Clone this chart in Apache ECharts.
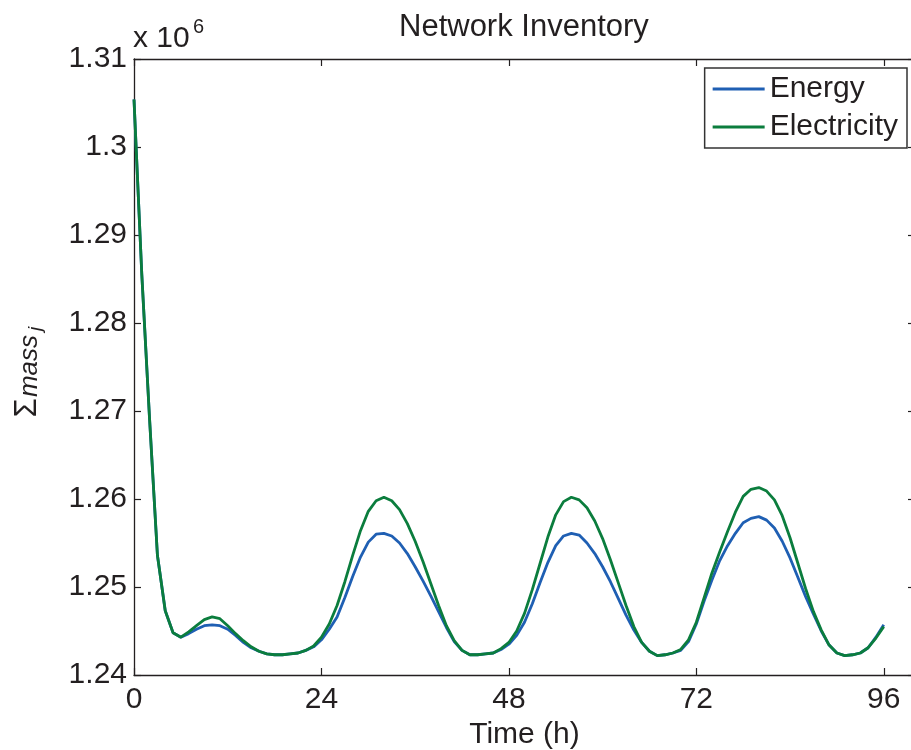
<!DOCTYPE html>
<html>
<head>
<meta charset="utf-8">
<title>Network Inventory</title>
<script src="https://cdn.jsdelivr.net/npm/echarts@6/dist/echarts.min.js"></script>
<style>
  html, body { margin: 0; padding: 0; background: #fff; }
  #chart { width: 911px; height: 750px; }
</style>
</head>
<body>
<div id="chart"></div>
<script>
// time axis (h)
var hours = [
  0, 1, 2, 3, 4, 5, 6, 7, 8, 9, 10, 11, 12, 13, 14, 15, 16, 17, 18, 19,
  20, 21, 22, 23, 24, 25, 26, 27, 28, 29, 30, 31, 32, 33, 34, 35, 36, 37, 38, 39,
  40, 41, 42, 43, 44, 45, 46, 47, 48, 49, 50, 51, 52, 53, 54, 55, 56, 57, 58, 59,
  60, 61, 62, 63, 64, 65, 66, 67, 68, 69, 70, 71, 72, 73, 74, 75, 76, 77, 78, 79,
  80, 81, 82, 83, 84, 85, 86, 87, 88, 89, 90, 91, 92, 93, 94, 95, 96
];

// sum of mass, x 10^6
var energy = [
  1.3054, 1.2855, 1.2690, 1.2536, 1.2473, 1.2448, 1.2443, 1.2447, 1.2452, 1.2456,
  1.2457, 1.2456, 1.2452, 1.2445, 1.2437, 1.2431, 1.2427, 1.2424, 1.2423, 1.2423,
  1.2424, 1.2425, 1.2428, 1.2432, 1.2440, 1.2452, 1.2466, 1.2488, 1.2512, 1.2534,
  1.2551, 1.2560, 1.2561, 1.2558, 1.2550, 1.2538, 1.2523, 1.2507, 1.2490, 1.2472,
  1.2454, 1.2438, 1.2428, 1.2423, 1.2423, 1.2424, 1.2425, 1.2429, 1.2435, 1.2445,
  1.2460, 1.2481, 1.2505, 1.2528, 1.2547, 1.2558, 1.2561, 1.2559, 1.2550, 1.2538,
  1.2523, 1.2506, 1.2487, 1.2468, 1.2451, 1.2437, 1.2427, 1.2422, 1.2423, 1.2425,
  1.2428, 1.2438, 1.2458, 1.2484, 1.2508, 1.2530, 1.2547, 1.2561, 1.2573, 1.2578,
  1.2580, 1.2576, 1.2567, 1.2552, 1.2533, 1.2511, 1.2489, 1.2469, 1.2450, 1.2434,
  1.2425, 1.2422, 1.2423, 1.2425, 1.2431, 1.2443, 1.2457
];

var electricity = [
  1.3054, 1.2855, 1.2690, 1.2536, 1.2473, 1.2448, 1.2443, 1.2449, 1.2456, 1.2463,
  1.2466, 1.2464, 1.2456, 1.2447, 1.2439, 1.2432, 1.2427, 1.2424, 1.2423, 1.2423,
  1.2424, 1.2425, 1.2428, 1.2433, 1.2443, 1.2458, 1.2479, 1.2506, 1.2536, 1.2564,
  1.2586, 1.2598, 1.2602, 1.2598, 1.2588, 1.2572, 1.2552, 1.2529, 1.2504, 1.2479,
  1.2456, 1.2439, 1.2428, 1.2423, 1.2423, 1.2424, 1.2425, 1.2430, 1.2437, 1.2450,
  1.2470, 1.2497, 1.2527, 1.2557, 1.2582, 1.2597, 1.2602, 1.2599, 1.2590, 1.2575,
  1.2555, 1.2531, 1.2505, 1.2479, 1.2455, 1.2437, 1.2427, 1.2422, 1.2423, 1.2425,
  1.2429, 1.2440, 1.2460, 1.2488, 1.2516, 1.2540, 1.2563, 1.2585, 1.2603, 1.2611,
  1.2613, 1.2609, 1.2599, 1.2581, 1.2556, 1.2527, 1.2498, 1.2472, 1.2451, 1.2434,
  1.2425, 1.2422, 1.2423, 1.2425, 1.2431, 1.2442, 1.2455
];

var xTicks = [0, 24, 48, 72, 96];
var seriesNames = ["Energy", "Electricity"];

var FONT = '"Liberation Sans", Arial, Helvetica, sans-serif';
var INK = "#231f20";
var axisLine = { show: true, onZero: false, lineStyle: { color: INK, width: 1.3 } };
var tick = { show: true, inside: true, length: 7, lineStyle: { color: INK, width: 1.2 } };

var chart = echarts.init(document.getElementById("chart"), null, { renderer: "canvas" });

function pairs(vals) {
  return hours.map(function (h, i) { return [h, vals[i]]; });
}

var option = {
  animation: false,
  backgroundColor: "#fff",
  textStyle: { fontFamily: FONT },
  title: {
    text: "Network Inventory",
    left: 394,
    top: 7,
    textStyle: { fontSize: 31, fontWeight: "normal", color: INK, fontFamily: FONT }
  },
  legend: {
    orient: "vertical",
    right: 4,
    top: 68,
    padding: [6, 9, 6, 8],
    itemGap: 8,
    itemWidth: 52,
    itemHeight: 3,
    icon: "rect",
    borderColor: "#333",
    borderWidth: 1.5,
    backgroundColor: "#fff",
    data: seriesNames,
    textStyle: { fontSize: 30, lineHeight: 30, color: INK, fontFamily: FONT }
  },
  // the right edge of the box sits just past the canvas, as in the source image
  grid: { left: 134, top: 59, width: 781, height: 616, outerBoundsMode: "none", containLabel: false },
  xAxis: [
    {
      type: "value", min: 0, max: 100, interval: 24, position: "bottom",
      axisLine: axisLine,
      axisTick: Object.assign({ customValues: xTicks }, tick),
      axisLabel: { customValues: xTicks, fontSize: 30, color: INK, margin: 10, fontFamily: FONT },
      splitLine: { show: false },
      name: "Time (h)", nameLocation: "middle", nameGap: 34,
      nameTextStyle: { fontSize: 30, color: INK, fontFamily: FONT }
    },
    {
      type: "value", min: 0, max: 100, interval: 24, position: "top",
      axisLine: axisLine,
      axisTick: Object.assign({ customValues: xTicks }, tick),
      axisLabel: { show: false },
      splitLine: { show: false }
    }
  ],
  yAxis: [
    {
      type: "value", min: 1.24, max: 1.31, interval: 0.01, position: "left",
      axisLine: axisLine,
      axisTick: tick,
      axisLabel: {
        fontSize: 30, color: INK, margin: 7, fontFamily: FONT,
        formatter: function (v) { return String(+v.toFixed(2)); }
      },
      splitLine: { show: false }
    },
    {
      type: "value", min: 1.24, max: 1.31, interval: 0.01, position: "right",
      axisLine: axisLine,
      axisTick: tick,
      axisLabel: { show: false },
      splitLine: { show: false }
    }
  ],
  graphic: [
    { type: "text", x: 133, y: 39, style: { text: "x 10", font: "30px " + FONT, fill: INK, verticalAlign: "middle", align: "left" } },
    { type: "text", x: 193, y: 27, style: { text: "6", font: "20px " + FONT, fill: INK, verticalAlign: "middle", align: "left" } },
    { type: "text", x: 27, y: 408, rotation: Math.PI / 2, style: { text: "Σ", font: "31px " + FONT, fill: INK, verticalAlign: "middle", align: "center" } },
    { type: "text", x: 29.5, y: 366, rotation: Math.PI / 2, style: { text: "mass", font: "italic 26px " + FONT, fill: INK, verticalAlign: "middle", align: "center" } },
    { type: "text", x: 36, y: 329, rotation: Math.PI / 2, style: { text: "j", font: "italic 19px " + FONT, fill: INK, verticalAlign: "middle", align: "center" } }
  ],
  series: [
    {
      name: seriesNames[0], type: "line", data: pairs(energy),
      showSymbol: false, symbol: "none",
      lineStyle: { color: "#1f5fb3", width: 2.8 },
      itemStyle: { color: "#1f5fb3" }
    },
    {
      name: seriesNames[1], type: "line", data: pairs(electricity),
      showSymbol: false, symbol: "none",
      lineStyle: { color: "#0b7d3d", width: 2.8 },
      itemStyle: { color: "#0b7d3d" }
    }
  ]
};

chart.setOption(option);
</script>
</body>
</html>
